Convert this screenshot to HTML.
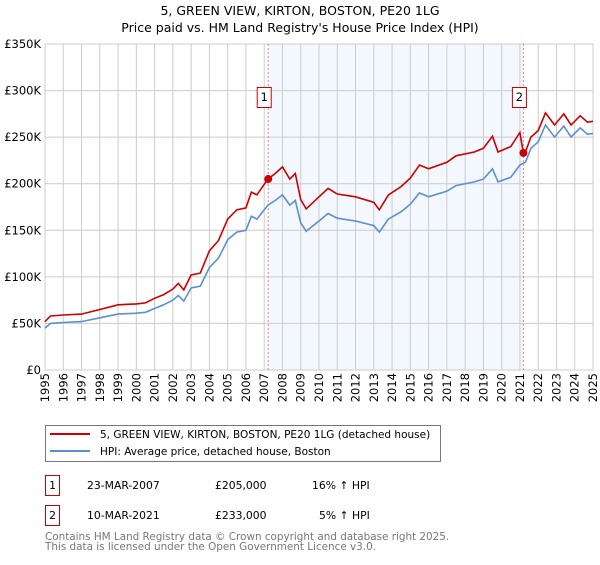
<!DOCTYPE html>
<html><head><meta charset="utf-8"><style>
body{margin:0;background:#fff;font-family:"Liberation Sans","DejaVu Sans",sans-serif;}
svg text{font-family:"DejaVu Sans","Liberation Sans",sans-serif;}
</style></head><body>
<svg id="c" width="600" height="560" xmlns="http://www.w3.org/2000/svg">
<text x="300" y="15" text-anchor="middle" font-size="12.5">5, GREEN VIEW, KIRTON, BOSTON, PE20 1LG</text>
<text x="300" y="32" text-anchor="middle" font-size="12.5">Price paid vs. HM Land Registry's House Price Index (HPI)</text>
<g id="plot"></g>
<g>
<rect x="45.5" y="425.5" width="395" height="36" fill="#fff" stroke="#777"/>
<line x1="50" y1="434" x2="90" y2="434" stroke="#cc0000" stroke-width="2"/>
<text x="100" y="438" font-size="10.5">5, GREEN VIEW, KIRTON, BOSTON, PE20 1LG (detached house)</text>
<line x1="50" y1="451" x2="90" y2="451" stroke="#5b8fd0" stroke-width="2"/>
<text x="100" y="455" font-size="10.5">HPI: Average price, detached house, Boston</text>
</g>
<g font-size="10.8">
<rect x="45.5" y="475.5" width="14" height="20" fill="#fff" stroke="#cc0000"/><text x="52.5" y="489" text-anchor="middle">1</text>
<text x="87" y="489">23-MAR-2007</text><text x="215" y="489">£205,000</text><text x="312" y="489">16% ↑ HPI</text>
<rect x="45.5" y="505.5" width="14" height="20" fill="#fff" stroke="#cc0000"/><text x="52.5" y="519" text-anchor="middle">2</text>
<text x="87" y="519">10-MAR-2021</text><text x="215" y="519">£233,000</text><text x="319" y="519">5% ↑ HPI</text>
</g>
<text x="45" y="540" font-size="10.4" fill="#777">Contains HM Land Registry data © Crown copyright and database right 2025.</text>
<text x="45" y="550" font-size="10.4" fill="#777">This data is licensed under the Open Government Licence v3.0.</text>
</svg>
<script>
const years=[1995.0,1995.3,1996,1997,1998,1999,2000,2000.5,2001,2001.5,2002,2002.3,2002.6,2003,2003.5,2004,2004.5,2005,2005.5,2006,2006.3,2006.6,2007.2,2007.6,2008,2008.4,2008.7,2009,2009.3,2010,2010.5,2011,2012,2013,2013.3,2013.8,2014.5,2015,2015.5,2016,2017,2017.5,2018.5,2019,2019.5,2019.8,2020.5,2021,2021.19,2021.3,2021.6,2022,2022.4,2022.9,2023.4,2023.8,2024.3,2024.7,2025];
const hpiValues=[45,50,51,52,56,60,61,62,66,70,75,80,74,88,90,110,120,140,148,150,165,162,177,182,188,177,182,158,149,160,168,163,160,155,148,162,170,178,190,186,192,198,202,205,216,202,207,220,222,223,238,245,263,250,262,250,260,253,254];
const propertyValues=[52,58,59,60,65,70,71,72,77,81,87,93,86,102,104,128,139,162,172,174,191,188,205,211,218,205,211,183,173,186,195,189,186,180,172,188,197,206,220,216,223,230,234,238,251,234,240,255,233,234,250,257,276,263,275,263,273,266,267];
const yTicks=[0,50,100,150,200,250,300,350];
const yTickLabels=["£0","£50K","£100K","£150K","£200K","£250K","£300K","£350K"];
const xTicks=[1995,1996,1997,1998,1999,2000,2001,2002,2003,2004,2005,2006,2007,2008,2009,2010,2011,2012,2013,2014,2015,2016,2017,2018,2019,2020,2021,2022,2023,2024,2025];
const sales=[{label:"1",year:2007.22,value:205},{label:"2",year:2021.19,value:233}];
const L=45,R=593,T=44,B=370;
const xs=y=>L+(y-1995)/30*(R-L);
const ys=v=>B-v/350*(B-T);
const NS="http://www.w3.org/2000/svg";
const g=document.getElementById('plot');
function mk(t,a){const e=document.createElementNS(NS,t);for(const k in a)e.setAttribute(k,a[k]);g.appendChild(e);return e;}
let e=mk('rect',{x:xs(sales[0].year),y:T,width:xs(sales[1].year)-xs(sales[0].year),height:B-T,fill:'#eef3fd',opacity:0.7});


yTicks.forEach((v,i)=>{
 let l=mk('line',{x1:L,x2:R,y1:ys(v),y2:ys(v),stroke:'#ccc'});
 
 
 let t=mk('text',{x:L-4,y:ys(v)+4,'text-anchor':'end','font-size':'11.5'});
 t.textContent=yTickLabels[i];
 
 
});
xTicks.forEach(yr=>{
 let l=mk('line',{x1:xs(yr),x2:xs(yr),y1:T,y2:B,stroke:'#ccc'});
 
 
 let t=mk('text',{x:0,y:0,'text-anchor':'end','font-size':'11.5',transform:`translate(${xs(yr)+4},${B+3}) rotate(-90)`});
 t.textContent=yr;
 
 
});
e=mk('rect',{x:L,y:T,width:R-L,height:B-T,fill:'none',stroke:'#ccc'});


sales.forEach(s=>{
 let l=mk('line',{x1:xs(s.year),x2:xs(s.year),y1:T,y2:B,stroke:'#f08080','stroke-dasharray':'2,2'});
 
 
});
function path(vals,col,name){
 const d=vals.map((v,i)=>(i?'L':'M')+xs(years[i]).toFixed(1)+','+ys(v).toFixed(1)).join('');
 let p=mk('path',{d:d,fill:'none',stroke:col,'stroke-width':1.6});
 
 
}
path(hpiValues,'#5b8fd0','hpi-line');
path(propertyValues,'#cc0000','property-line');
sales.forEach(s=>{
 let c=mk('circle',{cx:xs(s.year),cy:ys(s.value),r:4,fill:'#cc0000'});
 
 
 let b=mk('rect',{x:xs(s.year)-11,y:87.5,width:14,height:20,fill:'#fff',stroke:'#cc0000'});
 
 
 let t=mk('text',{x:xs(s.year)-4,y:101,'text-anchor':'middle','font-size':'11.5'});
 t.textContent=s.label;
 
 
});
</script>
</body></html>
